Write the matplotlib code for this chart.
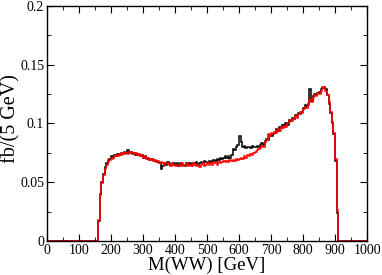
import numpy as np
import matplotlib
matplotlib.use('Agg')
import matplotlib.pyplot as plt
from matplotlib.ticker import MultipleLocator

plt.rcParams['font.family'] = ['Liberation Serif', 'DejaVu Serif']

# bins are 5 GeV wide, first filled bin starts at 160 GeV
bin_width = 5
first_bin = 160

# values in units of 1e-3 fb / 5 GeV
black = [17, 40, 50, 57, 63, 66, 69, 70, 72, 71,
         73, 72, 74, 73, 75, 74, 76, 75, 77, 75,
         76, 74, 75, 73, 74, 73, 72, 73, 71, 72,
         71, 70, 69, 70, 69, 68, 68, 67, 66, 61,
         64, 66, 65, 67, 66, 65, 65, 66, 65, 66,
         64, 66, 65, 65, 64, 66, 65, 66, 65, 66,
         66, 67, 65, 66, 67, 66, 68, 67, 66, 68,
         67, 68, 69, 68, 70, 69, 71, 70, 71, 72,
         71, 72, 71, 73, 78, 77, 80, 82, 89, 84,
         80, 81, 79, 80, 80, 79, 81, 80, 80, 81,
         80, 82, 83, 82, 85, 87, 86, 90, 89, 91,
         92, 95, 94, 97, 96, 99, 98, 100, 99, 103,
         102, 105, 104, 107, 106, 109, 108, 110, 113, 116,
         115, 117, 129, 119, 123, 125, 124, 126, 127, 129,
         130, 131, 129, 124, 117, 109, 100, 91, 68, 24]

red = [18, 39, 49, 56, 61, 65, 67, 69, 70, 71,
       72, 73, 72, 74, 73, 75, 74, 75, 74, 76,
       76, 75, 74, 75, 73, 74, 72, 73, 71, 72,
       70, 71, 69, 70, 68, 69, 67, 68, 66, 67,
       66, 65, 66, 66, 65, 64, 66, 65, 64, 65,
       65, 64, 66, 64, 65, 66, 64, 65, 64, 66,
       65, 64, 65, 63, 65, 66, 64, 65, 66, 65,
       66, 65, 67, 66, 65, 67, 66, 67, 68, 67,
       68, 67, 69, 68, 69, 68, 70, 69, 70, 71,
       70, 72, 71, 73, 72, 74, 73, 75, 76, 77,
       78, 79, 81, 80, 84, 86, 91, 89, 92, 91,
       93, 92, 95, 94, 97, 96, 98, 97, 100, 101,
       103, 102, 104, 106, 105, 108, 110, 109, 112, 114,
       113, 116, 120, 118, 122, 124, 123, 126, 125, 128,
       131, 130, 128, 124, 118, 110, 101, 92, 70, 26]

x_ticks = [0, 100, 200, 300, 400, 500, 600, 700, 800, 900, 1000]
y_ticks = [0, 0.05, 0.1, 0.15, 0.2]
y_ticklabels = ['0', '0.05', '0.1', '0.15', '0.2']

edges = np.arange(0, 1000 + bin_width, bin_width)


def full_hist(vals):
    h = np.zeros(len(edges) - 1)
    i0 = first_bin // bin_width
    h[i0:i0 + len(vals)] = np.array(vals) * 1e-3
    return h


fig = plt.figure(figsize=(3.82, 2.75), dpi=100)
ax = fig.add_axes([0.123, 0.124, 0.838, 0.854])

ax.stairs(full_hist(black), edges, color='black', lw=1.1)
ax.stairs(full_hist(red), edges, color='red', lw=1.1)

ax.set_xlim(0, 1000)
ax.set_ylim(0, 0.2)
ax.set_xticks(x_ticks)
ax.set_yticks(y_ticks)
ax.set_yticklabels(y_ticklabels)
ax.xaxis.set_minor_locator(MultipleLocator(50))
ax.yaxis.set_minor_locator(MultipleLocator(0.025))
ax.tick_params(which='both', direction='in', top=True, right=True,
               labelsize=10, pad=2)
ax.tick_params(which='major', length=5)
ax.tick_params(which='minor', length=3)
for s in ax.spines.values():
    s.set_linewidth(1.0)

ax.set_xlabel('M(WW) [GeV]', fontsize=13.5, labelpad=0)
ax.set_ylabel('fb/(5 GeV)', fontsize=14.5, va='center')
ax.yaxis.set_label_coords(-0.112, 0.52)

fig.savefig('out.png', dpi=100)
